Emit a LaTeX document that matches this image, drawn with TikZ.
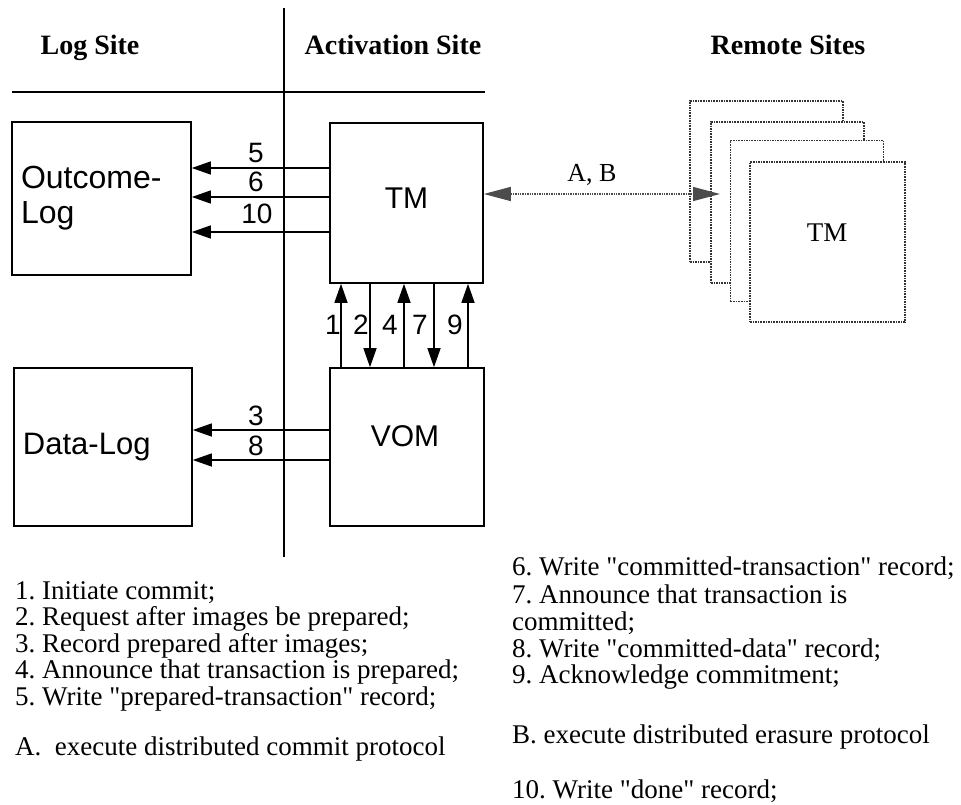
\documentclass[tikz,border=0pt]{standalone}
\usepackage{fontspec}
\setmainfont{Liberation Serif}
\newfontfamily\notefont[Ligatures=TeXOff]{Liberation Serif}
\newfontfamily\boxfont{Liberation Sans}
\usetikzlibrary{arrows.meta}
\frenchspacing
\begin{document}
\begin{tikzpicture}[x=1pt,y=-1pt,
  rule/.style={line width=1.6pt},
  box/.style={draw, line width=1.6pt, inner sep=0pt},
  boxlabel/.style={font=\boxfont\fontsize{31}{35}\selectfont},
  head/.style={font=\fontsize{28}{30}\selectfont\bfseries, anchor=base, inner sep=0pt},
  msg/.style={line width=1.4pt, -{Triangle[length=19pt,width=13pt]}},
  num/.style={font=\boxfont\fontsize{28}{30}\selectfont, inner sep=0pt},
  remote/.style={draw=black!80, line width=1.6pt, densely dotted, fill=white,
    minimum width=153pt, minimum height=161pt, inner sep=0pt},
  protocol/.style={draw=black!70, line width=1.4pt, densely dotted,
    {Triangle[length=27pt,width=14pt,fill=black!70]}-{Triangle[length=27pt,width=14pt,fill=black!70]}},
  note/.style={anchor=base west, font=\notefont\fontsize{27}{29}\selectfont, inner sep=0pt}]
\useasboundingbox (0,0) rectangle (961,805);

% site dividers
\coordinate (vtop) at (284,8);
\coordinate (vbot) at (284,557);
\coordinate (hleft) at (12,92);
\coordinate (hright) at (485,92);
\draw[rule] (vtop) -- (vbot);
\draw[rule] (hleft) -- (hright);

% column headings
\node[head] (hlog) at (90,55) {Log Site};
\node[head] (hact) at (393,55) {Activation Site};
\node[head] (hrem) at (788,55) {Remote Sites};

% log site boxes
\node[box, boxlabel, font=\boxfont\fontsize{32}{35}\selectfont, minimum height=153pt, text width=161pt, inner xsep=9pt, align=left]
  (outcome) at (101.5,198.5) {Outcome-\\Log};
\node[box, boxlabel, minimum height=158pt, text width=160pt, inner xsep=9pt, align=left]
  (datalog) at (103,447) {Data-Log};

% activation site boxes
\node[box, minimum width=153pt, minimum height=160pt] (tm) at (406.5,203) {};
\node[boxlabel, font=\boxfont\fontsize{30}{35}\selectfont] (tmlabel) at (406.5,198) {TM};
\node[box, minimum width=154pt, minimum height=158pt] (vom) at (407,447) {};
\node[boxlabel, font=\boxfont\fontsize{30}{35}\selectfont] (vomlabel) at (405,436) {VOM};

% remote sites: a stack of transaction managers
\node[remote] (r1) at (766.5,181.5) {};
\node[remote] (r2) at (787.5,202.5) {};
\node[remote] (r3) at (807,221) {};
\node[remote, minimum width=155pt, minimum height=160pt] (r4) at (827.5,242) {};
\node[font=\fontsize{27}{29}\selectfont] (rtm) at (827,233) {TM};

% distributed protocols between the activation site and the remote sites
\coordinate (abend) at (720,194);
\draw[protocol] (tm.east |- 0,194) -- (abend);
\node[font=\fontsize{26}{28}\selectfont, anchor=base] (ab) at (592,182) {A, B};

% TM writes to the outcome log
\draw[msg] (tm.west |- 0,168) -- (outcome.east |- 0,168);
\draw[msg] (tm.west |- 0,197) -- (outcome.east |- 0,197);
\draw[msg] (tm.west |- 0,232) -- (outcome.east |- 0,232);
\node[num, anchor=base] (n5) at (256,163) {5};
\node[num, anchor=base] (n6) at (256,192) {6};
\node[num, anchor=base] (n10) at (257,224) {10};

% VOM writes to the data log
\draw[msg] (vom.west |- 0,430) -- (datalog.east |- 0,430);
\draw[msg] (vom.west |- 0,460) -- (datalog.east |- 0,460);
\node[num, anchor=base] (n3) at (256,425) {3};
\node[num, anchor=base] (n8) at (256,455) {8};

% messages between TM and VOM
\draw[msg] (vom.north -| 341,0) -- (tm.south -| 341,0);
\draw[msg] (tm.south -| 370,0) -- (vom.north -| 370,0);
\draw[msg] (vom.north -| 404,0) -- (tm.south -| 404,0);
\draw[msg] (tm.south -| 434,0) -- (vom.north -| 434,0);
\draw[msg] (vom.north -| 468,0) -- (tm.south -| 468,0);
\node[num, anchor=base] (n1) at (333,334) {1};
\node[num, anchor=base] (n2) at (361,334) {2};
\node[num, anchor=base] (n4) at (390,334) {4};
\node[num, anchor=base] (n7) at (420,334) {7};
\node[num, anchor=base] (n9) at (455,334) {9};

% legend, left column
\node[note] (l1) at (15,599) {1. Initiate commit;};
\node[note] (l2) at (15,625) {2. Request after images be prepared;};
\node[note] (l3) at (15,652) {3. Record prepared after images;};
\node[note] (l4) at (15,678) {4. Announce that transaction is prepared;};
\node[note] (l5) at (15,705) {5. Write "prepared-transaction" record;};
\node[note] (la) at (15,755) {A.\ \ execute distributed commit protocol};

% legend, right column
\node[note] (l6) at (512,575) {6. Write "committed-transaction" record;};
\node[note] (l7) at (512,603) {7. Announce that transaction is};
\node[note] (l7b) at (512,630) {committed;};
\node[note] (l8) at (512,657) {8. Write "committed-data" record;};
\node[note] (l9) at (512,683) {9. Acknowledge commitment;};
\node[note] (lb) at (512,743) {B. execute distributed erasure protocol};
\node[note] (l10) at (512,798) {10. Write "done" record;};
\end{tikzpicture}
\end{document}
